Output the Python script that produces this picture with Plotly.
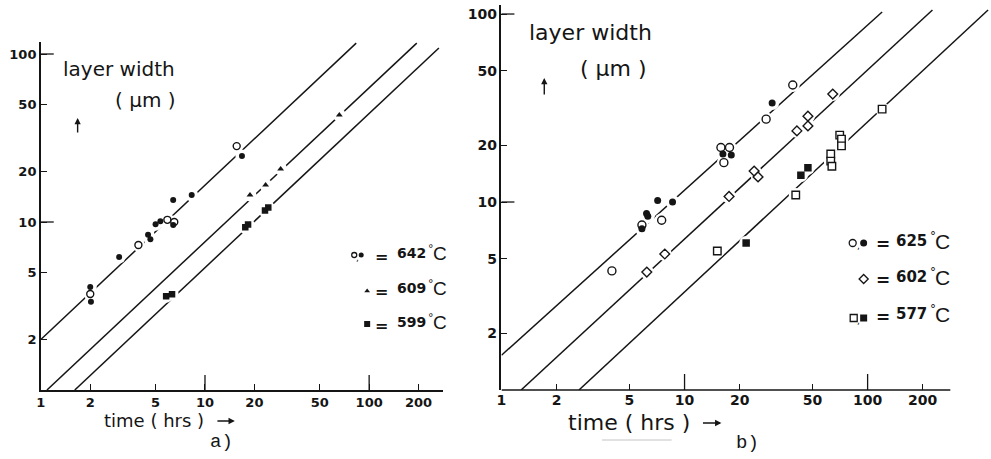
import plotly.graph_objects as go

INK = "#151515"

# ---------------- panel a) ----------------
a_tick_t = [1, 2, 5, 10, 20, 50, 100, 200]
a_tick_w = [2, 5, 10, 20, 50, 100]

a642_open_t = [2.0, 3.93, 5.9, 6.5, 15.6]
a642_open_w = [3.73, 7.3, 10.3, 10.0, 28.3]
a642_fill_t = [2.0, 2.02, 3.0, 4.5, 4.65, 5.0, 5.35, 6.4, 6.4, 8.3, 16.8]
a642_fill_w = [4.1, 3.35, 6.2, 8.4, 7.9, 9.7, 10.1, 9.6, 13.5, 14.5, 24.7]
a609_t = [18.8, 23.4, 28.9, 65.8]
a609_w = [14.5, 16.6, 20.7, 43.3]
a599_t = [5.8, 6.3, 17.6, 18.3, 23.2, 24.3]
a599_w = [3.62, 3.72, 9.3, 9.65, 11.7, 12.2]

# fitted growth lines (start and end points: time, width)
a_fit_t0 = [1.0, 1.09, 1.61]
a_fit_w0 = [2.0, 1.0, 1.0]
a_fit_t1 = [83.4, 195.0, 266.0]
a_fit_w1 = [116.0, 116.0, 108.6]
a_temps = ["642", "609", "599"]

# ---------------- panel b) ----------------
b_tick_t = [1, 2, 5, 10, 20, 50, 100, 200]
b_tick_w = [2, 5, 10, 20, 50, 100]

b625_open_t = [4.01, 5.85, 7.5, 15.8, 17.6, 16.4, 27.9, 39.0]
b625_open_w = [4.3, 7.54, 8.0, 19.5, 19.5, 16.2, 27.6, 41.9]
b625_fill_t = [5.85, 6.2, 6.3, 7.13, 8.6, 16.2, 18.0, 30.1]
b625_fill_w = [7.2, 8.7, 8.4, 10.2, 10.0, 18.0, 17.8, 33.6]
b602_t = [6.22, 7.8, 17.5, 24.0, 25.2, 41.1, 47.2, 47.2, 64.5]
b602_w = [4.24, 5.29, 10.7, 14.6, 13.6, 23.9, 25.4, 28.6, 37.5]
b577_open_t = [15.1, 40.5, 62.9, 62.9, 63.8, 70.4, 72.0, 72.0, 120.0]
b577_open_w = [5.49, 10.9, 18.0, 16.5, 15.5, 22.7, 21.6, 19.9, 31.2]
b577_fill_t = [21.7, 43.2, 47.2]
b577_fill_w = [6.05, 13.9, 15.2]

b_fit_t0 = [1.0, 1.28, 2.65]
b_fit_w0 = [1.53, 1.0, 1.0]
b_fit_t1 = [120.0, 226.0, 455.0]
b_fit_w1 = [102.5, 105.0, 105.0]
b_temps = ["625", "602", "577"]
b_axis_end = 283  # time axis drawn up to here

long_ticks = [10, 100]

fig = go.Figure()


def add_fits(t0s, w0s, t1s, w1s, xa, ya):
    for t0, w0, t1, w1 in zip(t0s, w0s, t1s, w1s):
        fig.add_trace(go.Scatter(x=[t0, t1], y=[w0, w1], mode="lines",
                                 line=dict(color=INK, width=1.5),
                                 xaxis=xa, yaxis=ya, hoverinfo="skip"))


def add_halo(ts, ws, xa, ya, size):
    # white discs leave the short breaks in the fitted lines around each point
    fig.add_trace(go.Scatter(x=ts, y=ws, mode="markers",
                             marker=dict(symbol="circle", size=size, color="white"),
                             xaxis=xa, yaxis=ya, hoverinfo="skip"))


def add_points(ts, ws, xa, ya, symbol, size, filled, lw=1.4):
    fig.add_trace(go.Scatter(
        x=ts, y=ws, mode="markers", xaxis=xa, yaxis=ya, hoverinfo="skip",
        marker=dict(symbol=symbol, size=size,
                    color=INK if filled else "white",
                    line=dict(color=INK, width=0 if filled else lw))))


# panel a marks
add_fits(a_fit_t0, a_fit_w0, a_fit_t1, a_fit_w1, "x", "y")
add_halo(a642_open_t + a642_fill_t + a609_t + a599_t,
         a642_open_w + a642_fill_w + a609_w + a599_w, "x", "y", 13)
add_points(a642_open_t, a642_open_w, "x", "y", "circle", 7, False)
add_points(a642_fill_t, a642_fill_w, "x", "y", "circle", 6, True)
add_points(a609_t, a609_w, "x", "y", "triangle-up", 6, True)
add_points(a599_t, a599_w, "x", "y", "square", 6.5, True)

# panel b marks
add_fits(b_fit_t0, b_fit_w0, b_fit_t1, b_fit_w1, "x2", "y2")
add_halo(b625_open_t + b625_fill_t + b602_t + b577_open_t + b577_fill_t,
         b625_open_w + b625_fill_w + b602_w + b577_open_w + b577_fill_w,
         "x2", "y2", 14)
add_points(b625_open_t, b625_open_w, "x2", "y2", "circle", 8, False)
add_points(b625_fill_t, b625_fill_w, "x2", "y2", "circle", 7, True)
add_points(b602_t, b602_w, "x2", "y2", "diamond", 7.5, False)
add_points(b577_open_t, b577_open_w, "x2", "y2", "square", 7.5, False)
add_points(b577_fill_t, b577_fill_w, "x2", "y2", "square", 7.5, True)


def log_axis(domain, rng, ticks, font_size, **extra):
    ax = dict(type="log", domain=domain, range=rng, showgrid=False,
              zeroline=False, showline=True, linecolor=INK, linewidth=1.5,
              ticks="inside", ticklen=6, tickwidth=1.3, tickcolor=INK,
              tickmode="array", tickvals=ticks,
              ticktext=[str(v) for v in ticks],
              tickfont=dict(family="DejaVu Sans", size=font_size,
                            color=INK, weight="bold"),
              fixedrange=True)
    ax.update(extra)
    return ax


W, H = 991, 459
fig.update_layout(
    width=W, height=H, autosize=False,
    margin=dict(l=0, r=0, t=0, b=0),
    paper_bgcolor="white", plot_bgcolor="rgba(0,0,0,0)",
    showlegend=False,
    xaxis=log_axis([36 / W, 440 / W], [0, 2.4485], a_tick_t, 13, anchor="y"),
    yaxis=log_axis([1 - 390 / H, 1 - 42 / H], [0, 2.0714], a_tick_w, 13, anchor="x"),
    xaxis2=log_axis([499 / W, 1.0], [0, 2.674], b_tick_t, 14, anchor="y2",
                    showline=False),
    yaxis2=log_axis([1 - 390 / H, 1 - 5 / H], [0, 2.048], b_tick_w, 14, anchor="x2"),
    # pixel-unit overlay used for text and key placement
    xaxis3=dict(domain=[0, 1], range=[0, W], visible=False, anchor="y3",
                fixedrange=True),
    yaxis3=dict(domain=[0, 1], range=[H, 0], visible=False, anchor="x3",
                fixedrange=True),
)

shapes = []
# longer ticks at the decades
for v in long_ticks:
    shapes.append(dict(type="line", xref="x", yref="y domain", x0=v, x1=v,
                       y0=0, y1=15 / 348, line=dict(color=INK, width=1.3)))
    shapes.append(dict(type="line", xref="x domain", yref="y", x0=0, x1=13 / 404,
                       y0=v, y1=v, line=dict(color=INK, width=1.3)))
    shapes.append(dict(type="line", xref="x2", yref="y2 domain", x0=v, x1=v,
                       y0=0, y1=16 / 385, line=dict(color=INK, width=1.3)))
    shapes.append(dict(type="line", xref="x2 domain", yref="y2", x0=0, x1=13 / 492,
                       y0=v, y1=v, line=dict(color=INK, width=1.3)))
# time axis of panel b
shapes.append(dict(type="line", xref="x2", yref="y2 domain", x0=1, x1=b_axis_end,
                   y0=0, y1=0, line=dict(color=INK, width=1.5)))
# faint rule beneath the panel b axis title
shapes.append(dict(type="line", xref="x3", yref="y3", x0=600, x1=670,
                   y0=440, y1=440, line=dict(color="#c4c4c4", width=1)))
fig.update_layout(shapes=shapes)

ann = []


def text(x, y, s, size, family="DejaVu Sans", weight="normal",
         xanchor="center", yanchor="middle"):
    ann.append(dict(xref="x3", yref="y3", x=x, y=y, text=s, showarrow=False,
                    xanchor=xanchor, yanchor=yanchor,
                    font=dict(family=family, size=size, color=INK, weight=weight)))


def arrow(x_head, y_head, x_tail, y_tail):
    ann.append(dict(xref="x3", yref="y3", axref="x3", ayref="y3",
                    x=x_head, y=y_head, ax=x_tail, ay=y_tail, text="",
                    showarrow=True, arrowhead=2, arrowsize=0.9,
                    arrowwidth=1.4, arrowcolor=INK, standoff=0, startstandoff=0))


# axis titles, panel a
text(115, 69, "layer width", 20)
text(141, 100, "( μm )", 20)
arrow(73, 118, 73, 134)
text(150, 420, "time ( hrs )", 18)
arrow(231, 421, 212, 421)
text(218, 442, "a)", 19, family="Liberation Mono")

# axis titles, panel b
text(588, 32, "layer width", 22)
text(612, 68, "( μm )", 22)
arrow(542, 78, 542, 96)
text(627, 422, "time ( hrs )", 22)
arrow(720, 423, 700, 423)
text(746, 443, "b)", 19, family="Liberation Mono")


def key(x, y, symbol, size, filled):
    fig.add_trace(go.Scatter(
        x=[x], y=[y], mode="markers", xaxis="x3", yaxis="y3", hoverinfo="skip",
        marker=dict(symbol=symbol, size=size, color=INK if filled else "white",
                    line=dict(color=INK, width=0 if filled else 1.3))))


def key_row(keys, y_key, y_txt, eq_x, num_x, temp, num_size, c_size):
    for (sym, kx, filled, ks) in keys:
        key(kx, y_key, sym, ks, filled)
    if len(keys) == 2:
        text((keys[0][1] + keys[1][1]) / 2, y_key + 3, ",", 9)
    text(eq_x, y_txt + 3, "=", num_size + 2, weight="bold")
    text(num_x, y_txt, temp, num_size, weight="bold", xanchor="left")
    text(num_x + 0.696 * num_size * 3 + 2, y_txt - 5, "°", num_size - 3,
         xanchor="left")
    text(num_x + 0.696 * num_size * 3 + 7, y_txt, "C", c_size,
         family="Liberation Sans", xanchor="left")


# key, panel a
key_row([("circle", 351, False, 5), ("circle", 358, True, 5)], 255, 253, 378, 392,
        a_temps[0], 14, 19)
key_row([("triangle-up", 364, True, 5)], 291, 288, 378, 392, a_temps[1], 14, 19)
key_row([("square", 364, True, 6)], 324, 322, 378, 392, a_temps[2], 14, 19)

# key, panel b
key_row([("circle", 852, False, 7), ("circle", 863, True, 7)], 243, 241, 882, 894,
        b_temps[0], 15, 21)
key_row([("diamond", 863, False, 7)], 279, 277, 882, 894, b_temps[1], 15, 21)
key_row([("square", 853, False, 7), ("square", 863, True, 7)], 318, 314, 882, 894,
        b_temps[2], 15, 21)

fig.update_layout(annotations=ann)

fig.write_html("out.html")
